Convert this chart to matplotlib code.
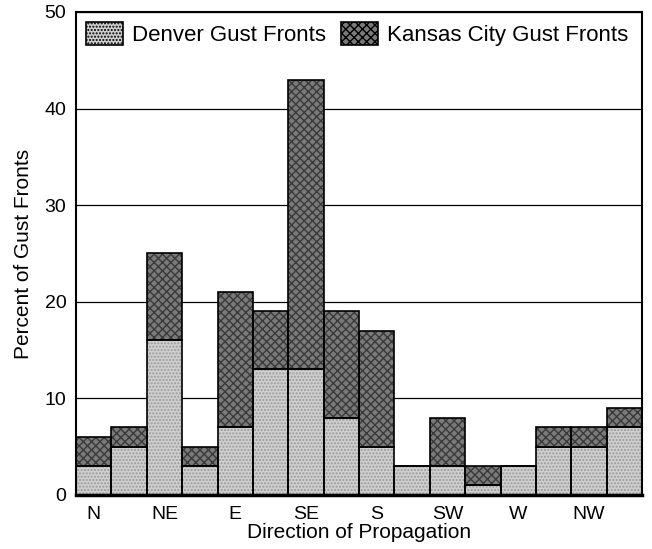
import matplotlib
matplotlib.use("Agg")
import matplotlib.pyplot as plt
import numpy as np
from matplotlib.patches import Patch

plt.rcParams['font.family'] = ['Liberation Sans', 'DejaVu Sans']

# 16-point compass, percent of gust fronts in each direction
directions = ['N', 'NNE', 'NE', 'ENE', 'E', 'ESE', 'SE', 'SSE',
              'S', 'SSW', 'SW', 'WSW', 'W', 'WNW', 'NW', 'NNW']
denver = [3, 5, 16, 3, 7, 13, 13, 8, 5, 3, 3, 1, 3, 5, 5, 7]
kansas_city = [3, 2, 9, 2, 14, 6, 30, 11, 12, 0, 5, 2, 0, 2, 2, 2]
tick_labels = ['N', 'NE', 'E', 'SE', 'S', 'SW', 'W', 'NW']

den_col = '#cfcfcf'
kc_col = '#7a7a7a'

fig = plt.figure(figsize=(6.52, 5.49), dpi=100)
ax = fig.add_axes([0.1166, 0.0984, 0.8681, 0.8798])

x = np.arange(len(directions))

# stippled fill first, then black outlines on top
ax.bar(x, denver, width=1.0, color=den_col, edgecolor='#9a9a9a',
       hatch='.....', linewidth=0, zorder=2)
ax.bar(x, kansas_city, bottom=denver, width=1.0, color=kc_col,
       edgecolor='#3a3a3a', hatch='xxxx', linewidth=0, zorder=2)
ax.bar(x, denver, width=1.0, fill=False, edgecolor='black',
       linewidth=1.2, zorder=3)
ax.bar(x, kansas_city, bottom=denver, width=1.0, fill=False,
       edgecolor='black', linewidth=1.2, zorder=3)

ax.set_xlim(-0.5, len(directions) - 0.5)
ax.set_ylim(0, 50)
ax.set_yticks([0, 10, 20, 30, 40, 50])
ax.set_xticks(x[::2])
ax.set_xticklabels(tick_labels)
ax.tick_params(length=0, labelsize=14)
ax.tick_params(axis='x', pad=8)
ax.tick_params(axis='y', pad=7)
ax.yaxis.grid(True, color='black', linewidth=0.9, zorder=0)
ax.set_axisbelow(True)

for s in ax.spines.values():
    s.set_linewidth(1.5)
ax.spines['bottom'].set_linewidth(2.5)

ax.set_xlabel('Direction of Propagation', fontsize=15, labelpad=0)
ax.set_ylabel('Percent of Gust Fronts', fontsize=15, labelpad=8)

handles = [Patch(facecolor=den_col, edgecolor='black', hatch='.....', linewidth=1.2,
                 label='Denver Gust Fronts'),
           Patch(facecolor=kc_col, edgecolor='black', hatch='xxxx', linewidth=1.2,
                 label='Kansas City Gust Fronts')]
ax.legend(handles=handles, loc='upper left', ncol=2, frameon=False,
          fontsize=16, handlelength=1.65, handleheight=1.2,
          handletextpad=0.4, columnspacing=0.7, borderaxespad=0.25,
          borderpad=0.2)

fig.savefig('out.png', dpi=100)
